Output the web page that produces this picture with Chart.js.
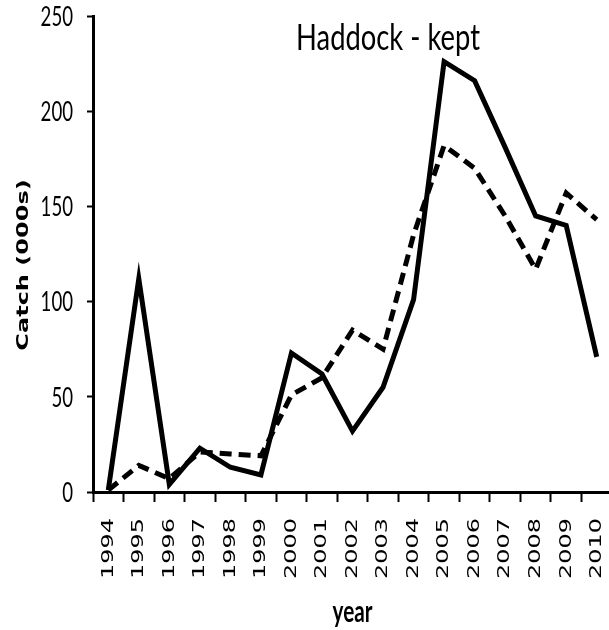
<!DOCTYPE html>
<html>
<head>
<meta charset="utf-8">
<script src="https://cdn.jsdelivr.net/npm/chart.js@4/dist/chart.umd.min.js"></script>
<style>
  html, body { margin: 0; padding: 0; background: #fff; overflow: hidden; }
  #wrap { width: 609px; height: 630px; overflow: hidden; }
</style>
</head>
<body>
<div id="wrap"><canvas id="catchChart" width="616" height="630"></canvas></div>
<script>
const years = ['1994', '1995', '1996', '1997', '1998', '1999', '2000', '2001', '2002',
    '2003', '2004', '2005', '2006', '2007', '2008', '2009', '2010'];
// solid line
const keptA = [1, 112, 4, 23, 13, 9, 73, 62, 32, 55, 101, 226, 216, 181, 145, 140, 71];
// dashed line
const keptB = [1, 14, 7, 21, 20, 19, 51, 60, 85, 75, 135, 182, 170, 145, 117, 157, 143];
const yTicks = [0, 50, 100, 150, 200, 250];

const chartTitle = 'Haddock - kept';
const xTitle = 'year';
const yTitle = 'Catch (000s)';

// the original picture is squeezed sideways, so all text gets the same squeeze
const SQUEEZE = 0.69;

function squashedText(ctx, text, x, y, font, align, rotate, squeeze) {
    ctx.save();
    ctx.translate(x, y);
    ctx.scale(squeeze || SQUEEZE, 1);
    if (rotate) ctx.rotate(rotate);
    ctx.font = font;
    ctx.fillStyle = '#000';
    ctx.textAlign = align;
    ctx.textBaseline = 'middle';
    ctx.fillText(text, 0, 0);
    ctx.restore();
}

const textLayer = {
    id: 'textLayer',
    afterDraw(chart) {
        const ctx = chart.ctx;
        const xs = chart.scales.x;
        const ys = chart.scales.y;
        const area = chart.chartArea;

        // y tick labels
        yTicks.forEach(v => {
            squashedText(ctx, String(v), 73, ys.getPixelForValue(v) + 1,
                '27px Lato, sans-serif', 'right');
        });
        // x tick labels, turned upright
        years.forEach((yr, i) => {
            squashedText(ctx, yr, xs.getPixelForValue(i), 518,
                '24px "DejaVu Sans", sans-serif', 'right', -Math.PI / 2);
        });
        // axis titles
        squashedText(ctx, xTitle, (area.left + area.right) / 2, 612,
            'bold 30px Lato, sans-serif', 'center');
        squashedText(ctx, yTitle, 24, 265,
            'bold 24px "DejaVu Sans", sans-serif', 'center', -Math.PI / 2);
        // chart title sits inside the plot
        squashedText(ctx, chartTitle, 388, 38,
            '36px Lato, sans-serif', 'center', 0, 0.76);
    }
};

const ctx = document.getElementById('catchChart').getContext('2d');
new Chart(ctx, {
    type: 'line',
    data: {
        labels: years,
        datasets: [
            {
                label: 'kept',
                data: keptA,
                borderColor: '#000',
                borderWidth: 5,
                pointRadius: 0,
                tension: 0,
                borderJoinStyle: 'miter'
            },
            {
                label: 'kept (dashed)',
                data: keptB,
                borderColor: '#000',
                borderWidth: 5,
                borderDash: [12, 7],
                pointRadius: 0,
                tension: 0
            }
        ]
    },
    options: {
        responsive: false,
        animation: false,
        layout: { padding: { top: 16, right: 4, left: 0, bottom: 0 } },
        plugins: {
            legend: { display: false },
            tooltip: { enabled: false }
        },
        scales: {
            x: {
                offset: true,
                grid: {
                    offset: true,
                    drawOnChartArea: false,
                    drawTicks: true,
                    tickLength: 10,
                    tickWidth: 2,
                    tickColor: '#000'
                },
                border: { color: '#000', width: 3 },
                ticks: { display: false, autoSkip: false },
                afterFit(scale) { scale.height = 138; }
            },
            y: {
                min: 0,
                max: 250,
                afterBuildTicks(scale) { scale.ticks = yTicks.map(v => ({ value: v })); },
                grid: {
                    drawOnChartArea: false,
                    drawTicks: true,
                    tickLength: 6,
                    tickWidth: 2,
                    tickColor: '#000'
                },
                border: { color: '#000', width: 3 },
                ticks: { display: false },
                afterFit(scale) { scale.width = 93; }
            }
        }
    },
    plugins: [textLayer]
});
</script>
</body>
</html>
